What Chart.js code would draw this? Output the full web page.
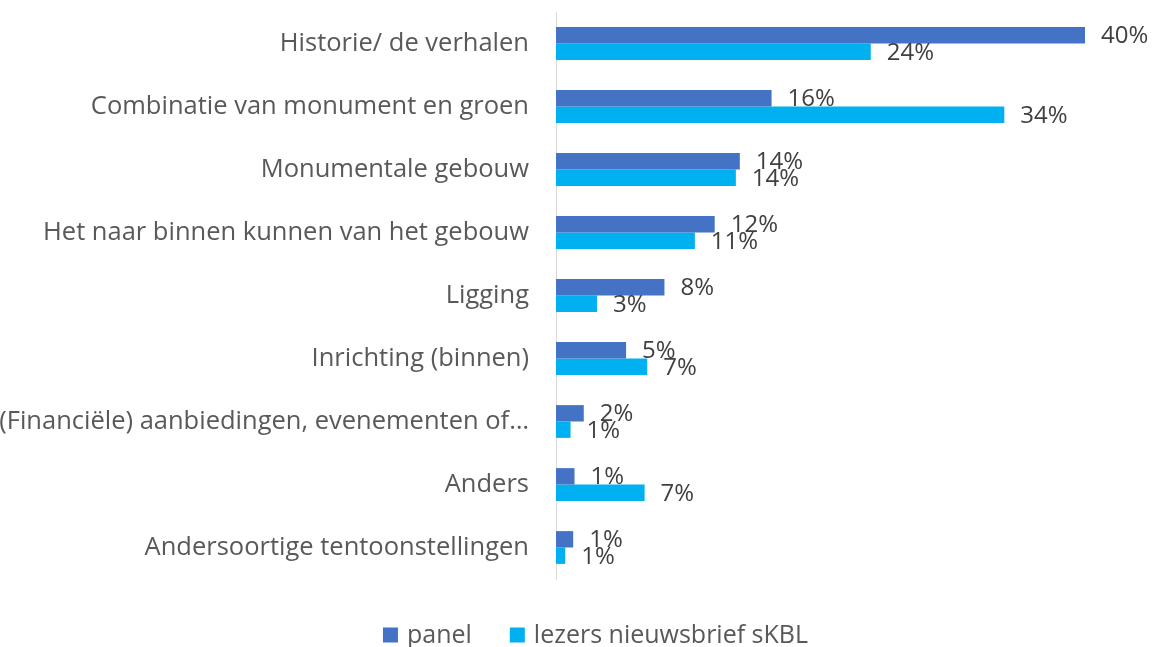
<!DOCTYPE html>
<html>
<head>
<meta charset="utf-8">
<script src="https://cdn.jsdelivr.net/npm/chart.js@4/dist/chart.umd.min.js"></script>
<style>
html,body{margin:0;padding:0;background:#fff;}
#wrap{width:1157px;height:647px;position:relative;}
</style>
</head>
<body>
<div id="wrap"><canvas id="c" width="1157" height="647"></canvas></div>
<script>
const categories = [
  "Historie/ de verhalen",
  "Combinatie van monument en groen",
  "Monumentale gebouw",
  "Het naar binnen kunnen van het gebouw",
  "Ligging",
  "Inrichting (binnen)",
  "(Financiële) aanbiedingen, evenementen of…",
  "Anders",
  "Andersoortige tentoonstellingen"
];
const panelValues = [40, 16.3, 13.9, 12.0, 8.2, 5.3, 2.1, 1.4, 1.3];
const lezersValues = [23.8, 33.9, 13.6, 10.5, 3.1, 6.9, 1.1, 6.7, 0.7];
const seriesNames = ["panel", "lezers nieuwsbrief sKBL"];
const seriesColors = ["#4472C4", "#00B0F0"];

const FONT = "'Open Sans', 'DejaVu Sans', sans-serif";

const dataLabelPlugin = {
  id: 'dataLabels',
  afterDatasetsDraw(chart) {
    const ctx = chart.ctx;
    ctx.save();
    ctx.font = "24px " + FONT;
    ctx.fillStyle = "#404040";
    ctx.textAlign = "left";
    ctx.textBaseline = "middle";
    chart.data.datasets.forEach((ds, i) => {
      const meta = chart.getDatasetMeta(i);
      meta.data.forEach((el, j) => {
        ctx.fillText(Math.round(ds.data[j]) + "%", el.x + 16, el.y + 1);
      });
    });
    ctx.restore();
  }
};

const legendPlugin = {
  id: 'customLegend',
  afterDraw(chart) {
    const ctx = chart.ctx;
    ctx.save();
    ctx.font = "25px " + FONT;
    ctx.textBaseline = "middle";
    ctx.textAlign = "left";
    const box = 15, boxGap = 9, itemGap = 38;
    const widths = seriesNames.map(n => box + boxGap + ctx.measureText(n).width);
    const total = widths.reduce((a, b) => a + b, 0) + itemGap * (widths.length - 1);
    let x = (chart.width - total) / 2 + 17;
    const y = 635;
    seriesNames.forEach((n, i) => {
      ctx.fillStyle = seriesColors[i];
      ctx.fillRect(x, y - box / 2, box, box);
      ctx.fillStyle = "#595959";
      ctx.fillText(n, x + box + boxGap, y + 1);
      x += widths[i] + itemGap;
    });
    ctx.restore();
  }
};

new Chart(document.getElementById('c'), {
  type: 'bar',
  data: {
    labels: categories,
    datasets: [
      { label: seriesNames[0], data: panelValues, backgroundColor: seriesColors[0] },
      { label: seriesNames[1], data: lezersValues, backgroundColor: seriesColors[1] }
    ]
  },
  options: {
    indexAxis: 'y',
    responsive: false,
    animation: false,
    maintainAspectRatio: false,
    layout: { padding: { top: 12, right: 72, left: 0, bottom: 68 } },
    categoryPercentage: 0.52,
    barPercentage: 1.0,
    scales: {
      x: { display: false, min: 0, max: 40 },
      y: {
        grid: { display: false, drawTicks: false },
        border: { display: true, color: '#d9d9d9', width: 1 },
        ticks: { color: '#595959', font: { family: FONT, size: 25.5 }, padding: 27, autoSkip: false },
        afterFit(scale) {
          scale.width = 556;
          scale.paddingTop = 0;
          scale.paddingBottom = 0;
        }
      }
    },
    plugins: {
      legend: { display: false },
      tooltip: { enabled: false }
    }
  },
  plugins: [dataLabelPlugin, legendPlugin]
});
</script>
</body>
</html>
